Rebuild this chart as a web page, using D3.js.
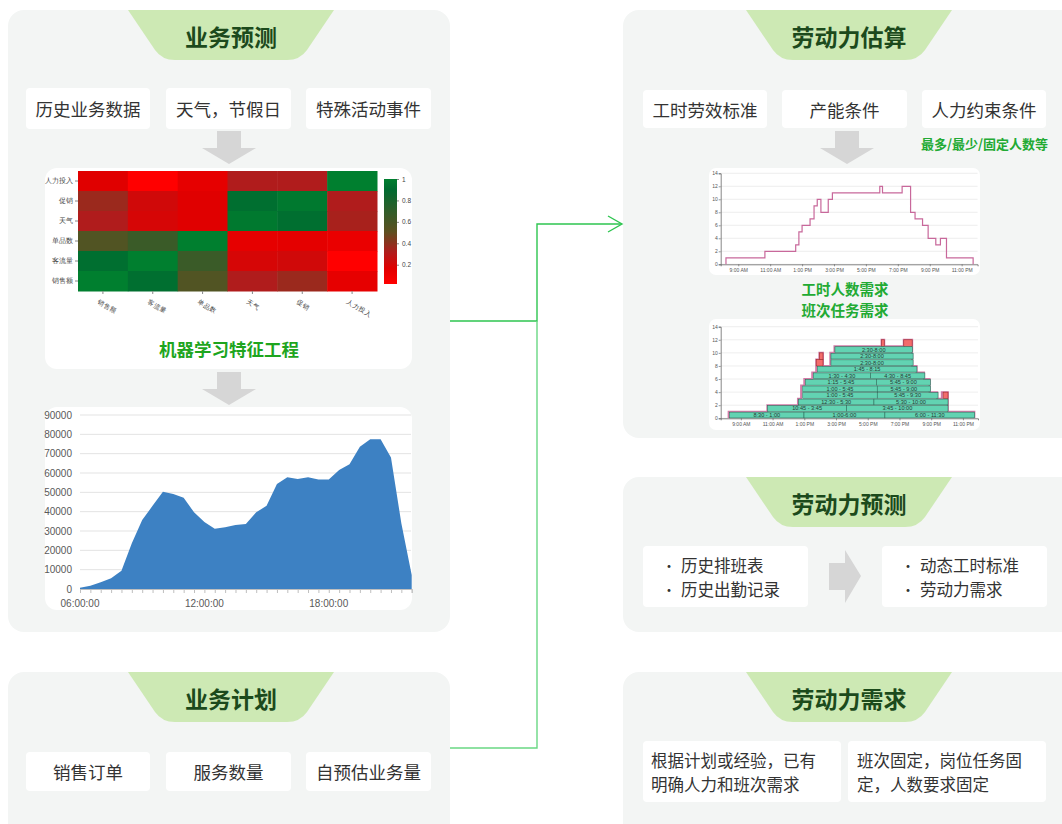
<!DOCTYPE html>
<html>
<head>
<meta charset="utf-8">
<script src="https://cdn.jsdelivr.net/npm/d3@7"></script>
<style>
  body { margin: 0; background: #fff; font-family: "Noto Sans CJK SC", "Noto Sans", sans-serif; }
</style>
</head>
<body>
<svg id="chart" width="1062" height="824"></svg>
<script>
// ---- data ----
const heatRows = ["人力投入", "促销", "天气", "单品数", "客流量", "销售额"];
const heatCols = ["销售额", "客流量", "单品数", "天气", "促销", "人力投入"];
const heatValues = [
  [0.15, 0.0, 0.12, 0.3, 0.3, 1.0],
  [0.35, 0.2, 0.15, 0.92, 0.97, 0.3],
  [0.3, 0.18, 0.15, 0.97, 0.92, 0.32],
  [0.55, 0.65, 1.0, 0.12, 0.13, 0.1],
  [0.92, 1.0, 0.65, 0.18, 0.2, 0.0],
  [1.0, 0.92, 0.55, 0.3, 0.35, 0.12]
];
const colorTicks = [0.2, 0.4, 0.6, 0.8, 1];

const salesTimes = [6, 6.5, 7, 7.5, 8, 8.5, 9, 9.5, 10, 10.5, 11, 11.5, 12, 12.5, 13, 13.5,
  14, 14.5, 15, 15.5, 16, 16.5, 17, 17.5, 18, 18.5, 19, 19.5, 20, 20.5, 21, 21.5, 22];
const salesValues = [700, 1700, 3500, 5500, 9500, 23600, 35700, 43000, 50300, 49100, 47200,
  39700, 34700, 31200, 31900, 33100, 33600, 39700, 43000, 54300, 57800, 56900, 57800, 56700,
  56700, 61600, 64500, 73600, 77400, 77400, 68000, 34000, 7200];
const salesYTicks = [0, 10000, 20000, 30000, 40000, 50000, 60000, 70000, 80000, 90000];
const salesXTicks = [6, 12, 18];
const salesXLabels = ["06:00:00", "12:00:00", "18:00:00"];

const demandTimes = [8.23, 8.23, 10.67, 12.6, 12.8, 13.0, 13.5, 13.75, 13.95, 14.18, 14.64, 14.9,
  17.87, 18.04, 19.27, 19.8, 20.08, 20.55, 20.9, 21.38, 21.67, 22.05, 23.72];
const demandValues = [0, 1, 2, 3, 5, 6, 7, 9, 10, 8, 10, 11, 12, 11, 12, 8, 7, 6, 4, 3, 4, 1, 0];
const staffTicks = [0, 2, 4, 6, 8, 10, 12, 14];
const hourTicks = [9, 11, 13, 15, 17, 19, 21, 23];
const hourLabels = ["9:00 AM", "11:00 AM", "1:00 PM", "3:00 PM", "5:00 PM", "7:00 PM", "9:00 PM", "11:00 PM"];

const shiftRow   = [0, 0, 0, 1, 1, 2, 2, 3, 3, 4, 4, 5, 5, 6, 6, 7, 8, 9, 10];
const shiftStart = [8.29, 12.98, 18.08, 10.68, 15.67, 12.63, 17.39, 12.9, 17.6, 12.9, 17.6,
  13.07, 17.55, 13.57, 17.18, 13.82, 14.68, 14.68, 14.93];
const shiftEnd   = [12.98, 18.08, 23.74, 15.67, 22.06, 17.39, 22.06, 17.6, 21.43, 17.6, 20.95,
  17.55, 20.95, 17.18, 20.6, 20.1, 19.86, 19.86, 19.82];
const shiftLabel = ["8:30 - 1:00", "1:00-6:00", "6:00 - 11:30", "10:45 - 3:45", "3:45 - 10:00",
  "12:30 - 5:30", "5:30 - 10:00", "1:00 - 5:45", "5:45 - 9:30", "1:00 - 5:45", "5:45 - 9:00",
  "1:15 - 5:45", "5:45 - 9:00", "1:30 - 4:30", "4:30 - 8:45", "1:45 - 8:15", "2:30-8:00",
  "2:30-8:00", "2:30-8:00"];
// uncovered demand [from, to, low, high]
const gapFrom = [13.75, 13.95, 17.87, 19.27, 21.75];
const gapTo   = [14.18, 14.18, 18.04, 19.8, 22.06];
const gapLow  = [8, 9, 11, 11, 3];
const gapHigh = [9, 10, 12, 12, 4];

const svg = d3.select("#chart");

// ---- panels ----
const panels = [[8, 10, 442, 622], [8, 672, 442, 200], [623, 10, 470, 428], [623, 477, 470, 155], [623, 672, 470, 200]];
svg.selectAll("rect.panel").data(panels).enter().append("rect")
  .attr("class", "panel")
  .attr("x", d => d[0]).attr("y", d => d[1]).attr("width", d => d[2]).attr("height", d => d[3])
  .attr("rx", 16).attr("fill", "#f3f5f4");

// tabs
function tab(cx, top, label) {
  svg.append("path")
    .attr("d", `M${cx - 103},${top} L${cx + 103},${top} L${cx + 76},${top + 40} Q${cx + 69},${top + 50} ${cx + 56},${top + 50}
      L${cx - 56},${top + 50} Q${cx - 69},${top + 50} ${cx - 76},${top + 40} Z`)
    .attr("fill", "#cde9b4");
  svg.append("text").attr("x", cx).attr("y", top + 26)
    .attr("text-anchor", "middle").attr("dominant-baseline", "central")
    .attr("font-size", 23).attr("font-weight", "bold").attr("fill", "#1c4a1c")
    .text(label);
}
tab(231, 10, "业务预测");
tab(231, 672, "业务计划");
tab(849, 10, "劳动力估算");
tab(849, 477, "劳动力预测");
tab(849, 672, "劳动力需求");

// white boxes with text
function box(x, y, w, h, lines, opt) {
  opt = opt || {};
  svg.append("rect").attr("x", x).attr("y", y).attr("width", w).attr("height", h)
    .attr("rx", 4).attr("fill", "#fff");
  const n = lines.length;
  const fs = n > 1 ? 16.5 : 17.5;
  lines.forEach((s, i) => {
    const ty = y + h / 2 + (i - (n - 1) / 2) * 24;
    if (opt.bullet) {
      svg.append("text").attr("x", x + opt.bullet).attr("y", ty)
        .attr("dominant-baseline", "central").attr("font-size", 14).attr("fill", "#333").text("•");
    }
    svg.append("text")
      .attr("x", opt.left ? x + opt.left : x + w / 2).attr("y", ty)
      .attr("text-anchor", opt.left ? "start" : "middle")
      .attr("dominant-baseline", "central")
      .attr("font-size", fs).attr("fill", "#333").text(s);
  });
}
box(26, 88, 124, 41, ["历史业务数据"]);
box(166, 88, 125, 41, ["天气，节假日"]);
box(306, 88, 125, 41, ["特殊活动事件"]);
box(26, 752, 124, 39, ["销售订单"]);
box(166, 752, 125, 39, ["服务数量"]);
box(306, 752, 125, 39, ["自预估业务量"]);
box(643, 90, 124, 38, ["工时劳效标准"]);
box(782, 90, 125, 38, ["产能条件"]);
box(922, 90, 124, 38, ["人力约束条件"]);
box(643, 546, 165, 61, ["历史排班表", "历史出勤记录"], { left: 38, bullet: 19 });
box(882, 546, 165, 61, ["动态工时标准", "劳动力需求"], { left: 38, bullet: 19 });
box(643, 741, 198, 61, ["根据计划或经验，已有", "明确人力和班次需求"], { left: 8 });
box(848, 741, 198, 61, ["班次固定，岗位任务固", "定，人数要求固定"], { left: 9 });

svg.append("text").attr("x", 1048).attr("y", 143).attr("text-anchor", "end")
  .attr("dominant-baseline", "central").attr("font-size", 13).attr("font-weight", "bold")
  .attr("fill", "#22aa33").text("最多/最少/固定人数等");

// gray arrows
function downArrow(cx, top) {
  svg.append("path")
    .attr("d", `M${cx - 12},${top} H${cx + 12} V${top + 17} H${cx + 27} L${cx},${top + 33} L${cx - 27},${top + 17} H${cx - 12} Z`)
    .attr("fill", "#d6d6d6");
}
downArrow(229, 131);
downArrow(229, 372);
downArrow(847, 131);
svg.append("path").attr("d", "M829,563 H845 V550 L861,576 L845,603 V590 H829 Z").attr("fill", "#d6d6d6");

// connectors
const green = "#2ec550";
svg.append("path").attr("d", "M450,321 H537 V224 H621").attr("fill", "none").attr("stroke", green).attr("stroke-width", 1.4);
svg.append("path").attr("d", "M450,748 H537 V321").attr("fill", "none").attr("stroke", "#6ad884").attr("stroke-width", 1.4);
svg.append("path").attr("d", "M608,216 L622,224 L608,232").attr("fill", "none").attr("stroke", green).attr("stroke-width", 1.4);

// ---- heatmap ----
svg.append("rect").attr("x", 45).attr("y", 168).attr("width", 367).attr("height", 201).attr("rx", 12).attr("fill", "#fff");
const hx = d3.scaleBand().domain(heatCols).range([78, 377]);
const hy = d3.scaleBand().domain(heatRows).range([171, 291]);
const heatColor = d3.scaleLinear()
  .domain([0, 0.15, 0.3, 0.5, 0.7, 0.9, 1])
  .range(["#ff0000", "#e00000", "#b01c1c", "#5c5020", "#2f5e2a", "#006b30", "#007f2f"]);
const cells = [];
heatRows.forEach((r, i) => heatCols.forEach((c, j) => cells.push({ r, c, v: heatValues[i][j] })));
svg.append("g").selectAll("rect").data(cells).enter().append("rect")
  .attr("x", d => hx(d.c)).attr("y", d => hy(d.r))
  .attr("width", hx.bandwidth() + 0.5).attr("height", hy.bandwidth() + 0.5)
  .attr("fill", d => heatColor(d.v));

const hyAxis = svg.append("g").attr("transform", "translate(78,0)")
  .call(d3.axisLeft(hy).tickSize(3).tickPadding(2));
hyAxis.select(".domain").remove();
hyAxis.selectAll("text").attr("font-size", 6.5).attr("fill", "#444");
hyAxis.selectAll("line").attr("stroke", "#888");
const hxAxis = svg.append("g").attr("transform", "translate(0,291)")
  .call(d3.axisBottom(hx).tickSize(3));
hxAxis.select(".domain").remove();
hxAxis.selectAll("line").attr("stroke", "#888");
hxAxis.selectAll("text").attr("font-size", 6.5).attr("fill", "#444")
  .attr("text-anchor", "start").attr("dy", 0)
  .attr("transform", "translate(-3,7) rotate(30)");

// colorbar
const cb = d3.scaleLinear().domain([0.02, 1]).range([284, 179]);
const grad = svg.append("defs").append("linearGradient").attr("id", "cbar")
  .attr("x1", 0).attr("y1", 1).attr("x2", 0).attr("y2", 0);
heatColor.domain().forEach(v => grad.append("stop").attr("offset", v).attr("stop-color", heatColor(v)));
svg.append("rect").attr("x", 384).attr("y", 179).attr("width", 13).attr("height", 105).attr("fill", "url(#cbar)");
const cbAxis = svg.append("g").attr("transform", "translate(397,0)")
  .call(d3.axisRight(cb).tickValues(colorTicks).tickSize(2).tickFormat(d3.format("")));
cbAxis.select(".domain").remove();
cbAxis.selectAll("text").attr("font-size", 6.5).attr("fill", "#444");
cbAxis.selectAll("line").attr("stroke", "#888");

svg.append("text").attr("x", 229).attr("y", 348).attr("text-anchor", "middle")
  .attr("dominant-baseline", "central").attr("font-size", 17.5).attr("font-weight", "bold")
  .attr("fill", "#1ea51e").text("机器学习特征工程");

// ---- sales area chart ----
svg.append("rect").attr("x", 45).attr("y", 407).attr("width", 367).attr("height", 203).attr("rx", 12).attr("fill", "#fff");
const ax = d3.scaleLinear().domain([6, 22]).range([80, 411.7]);
const ay = d3.scaleLinear().domain([0, 90000]).range([589, 415]);
svg.append("g").selectAll("line").data(salesYTicks).enter().append("line")
  .attr("x1", 80).attr("x2", 411).attr("y1", d => ay(d)).attr("y2", d => ay(d))
  .attr("stroke", "#e3e3e3");
svg.append("path")
  .datum(salesTimes.map((t, i) => [t, salesValues[i]]))
  .attr("d", d3.area().x(d => ax(d[0])).y0(ay(0)).y1(d => ay(d[1])))
  .attr("fill", "#3d81c3");
const ayAxis = svg.append("g").attr("transform", "translate(80,0)")
  .call(d3.axisLeft(ay).tickValues(salesYTicks).tickSize(0).tickPadding(8).tickFormat(d3.format("d")));
ayAxis.select(".domain").remove();
ayAxis.selectAll("text").attr("font-size", 10).attr("fill", "#595959").attr("font-family", "Liberation Sans, Arial, sans-serif");
const axAxis = svg.append("g").attr("transform", `translate(0,${ay(0)})`)
  .call(d3.axisBottom(ax).tickValues(salesTimes).tickSize(4).tickFormat(""));
axAxis.select(".domain").attr("stroke", "#bfbfbf");
axAxis.selectAll("line").attr("stroke", "#bfbfbf");
svg.append("g").selectAll("text").data(salesXTicks).enter().append("text")
  .attr("x", d => ax(d)).attr("y", 603).attr("text-anchor", "middle").attr("dominant-baseline", "central")
  .attr("font-size", 10).attr("fill", "#595959").attr("font-family", "Liberation Sans, Arial, sans-serif")
  .text((d, i) => salesXLabels[i]);

// ---- demand step chart ----
function smallAxes(x, y, left, right, bottom) {
  const g = svg.append("g");
  g.selectAll("line.grid").data(staffTicks).enter().append("line")
    .attr("x1", left).attr("x2", right).attr("y1", d => y(d)).attr("y2", d => y(d))
    .attr("stroke", "#e6e6e6").attr("stroke-width", 0.7);
  const yA = g.append("g").attr("transform", `translate(${left},0)`)
    .call(d3.axisLeft(y).tickValues(staffTicks).tickSize(2).tickPadding(1));
  const xA = g.append("g").attr("transform", `translate(0,${bottom})`)
    .call(d3.axisBottom(x).tickValues(hourTicks).tickSize(2).tickPadding(2).tickFormat((d, i) => hourLabels[i]));
  [yA, xA].forEach(a => {
    a.select(".domain").attr("stroke", "#555").attr("stroke-width", 0.7);
    a.selectAll("line").attr("stroke", "#555").attr("stroke-width", 0.6);
    a.selectAll("text").attr("font-size", 5).attr("fill", "#555").attr("font-family", "Liberation Sans, Arial, sans-serif");
  });
  return g;
}
svg.append("rect").attr("x", 709).attr("y", 168).attr("width", 271).attr("height", 107).attr("rx", 7).attr("fill", "#fff");
const lx = d3.scaleLinear().domain([7.9, 24]).range([720.7, 977.6]);
const ly = d3.scaleLinear().domain([0, 14]).range([264.3, 173.3]);
smallAxes(lx, ly, 720.7, 977.6, 264.3);
const stepLine = (x, y) => d3.line().curve(d3.curveStepAfter).x(d => x(d[0])).y(d => y(d[1]));
const demandPts = demandTimes.map((t, i) => [t, demandValues[i]]);
svg.append("path").datum(demandPts).attr("d", stepLine(lx, ly))
  .attr("fill", "none").attr("stroke", "#c8689b").attr("stroke-width", 1.2);

["工时人数需求", "班次任务需求"].forEach((s, i) => {
  svg.append("text").attr("x", 845).attr("y", 288 + i * 21)
    .attr("text-anchor", "middle").attr("dominant-baseline", "central")
    .attr("font-size", 14.5).attr("font-weight", "bold").attr("fill", "#22aa33").text(s);
});

// ---- shift gantt ----
svg.append("rect").attr("x", 709).attr("y", 319).attr("width", 271).attr("height", 111).attr("rx", 7).attr("fill", "#fff");
const gx = d3.scaleLinear().domain([7.73, 23.95]).range([720.7, 978]);
const gy = d3.scaleLinear().domain([0, 14]).range([418.3, 326.7]);
smallAxes(gx, gy, 720.7, 978, 418.3);
svg.append("path").datum(demandPts).attr("d", stepLine(gx, gy))
  .attr("fill", "none").attr("stroke", "#d27aa6").attr("stroke-width", 2);
svg.append("g").selectAll("rect").data(gapFrom).enter().append("rect")
  .attr("x", (d, i) => gx(d)).attr("width", (d, i) => gx(gapTo[i]) - gx(d))
  .attr("y", (d, i) => gy(gapHigh[i])).attr("height", (d, i) => gy(gapLow[i]) - gy(gapHigh[i]))
  .attr("fill", "#f36c6c").attr("stroke", "#9a2a2a").attr("stroke-width", 0.6);
const sg = svg.append("g").selectAll("g").data(shiftRow).enter().append("g");
sg.append("rect")
  .attr("x", (d, i) => gx(shiftStart[i])).attr("width", (d, i) => gx(shiftEnd[i]) - gx(shiftStart[i]))
  .attr("y", d => gy(d + 1) + 0.4).attr("height", d => gy(d) - gy(d + 1) - 0.8)
  .attr("fill", "#62d3b2").attr("stroke", "#2f6f5d").attr("stroke-width", 0.6);
sg.append("text")
  .attr("x", (d, i) => (gx(shiftStart[i]) + gx(shiftEnd[i])) / 2).attr("y", d => gy(d + 0.5))
  .attr("text-anchor", "middle").attr("dominant-baseline", "central")
  .attr("font-size", 5.6).attr("fill", "#2a3a35").attr("font-family", "Liberation Sans, Arial, sans-serif")
  .text((d, i) => shiftLabel[i]);
</script>
</body>
</html>
